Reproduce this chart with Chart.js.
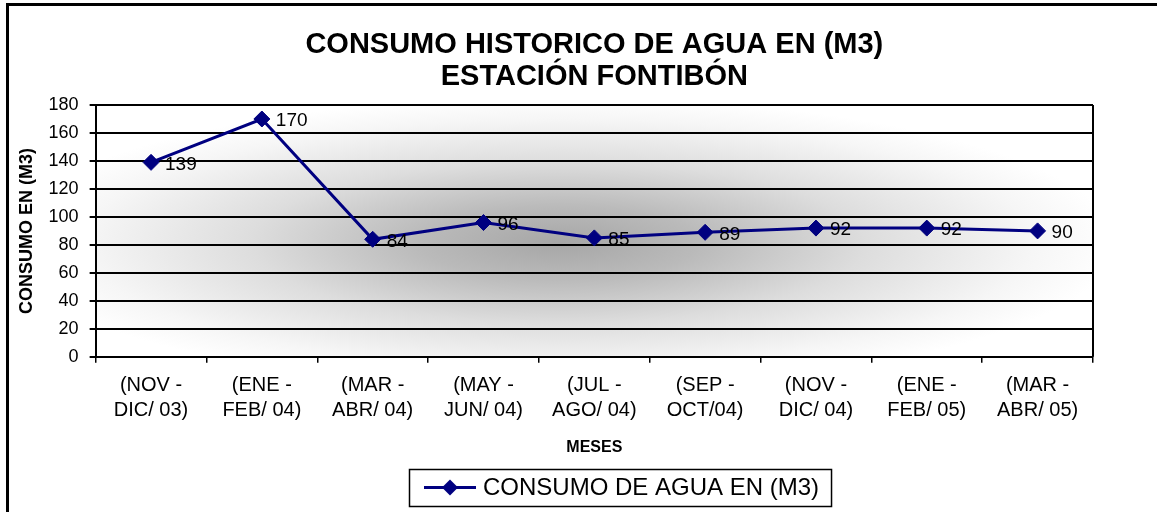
<!DOCTYPE html>
<html>
<head>
<meta charset="utf-8">
<title>Consumo histórico de agua</title>
<script src="https://cdn.jsdelivr.net/npm/chart.js@4.4.1/dist/chart.umd.min.js"></script>
<style>
    html, body { margin: 0; padding: 0; background: #ffffff; }
    #wrap { width: 1157px; height: 512px; position: relative; }
</style>
</head>
<body>
<div id="wrap"><canvas id="aguaChart"></canvas></div>
<script>
// periodos bimestrales
const periodos = [
    ['(NOV -', 'DIC/ 03)'],
    ['(ENE -', 'FEB/ 04)'],
    ['(MAR -', 'ABR/ 04)'],
    ['(MAY -', 'JUN/ 04)'],
    ['(JUL -', 'AGO/ 04)'],
    ['(SEP -', 'OCT/04)'],
    ['(NOV -', 'DIC/ 04)'],
    ['(ENE -', 'FEB/ 05)'],
    ['(MAR -', 'ABR/ 05)']
];

// consumo en m3
const consumo = [139, 170, 84, 96, 85, 89, 92, 92, 90];

const titulo = ['CONSUMO HISTORICO DE AGUA EN (M3)', 'ESTACIÓN FONTIBÓN'];
const serieNombre = 'CONSUMO DE AGUA EN (M3)';
const ejeY = { min: 0, max: 180, paso: 20 };

const FONT = '"Liberation Sans", Arial, sans-serif';
const NAVY = '#000080';

// fondo degradado del area de trazado
const fondoPlugin = {
    id: 'fondo',
    beforeDraw(chart) {
        const { ctx, chartArea: a } = chart;
        const cx = (a.left + a.right) / 2 - 35;
        const cy = (a.top + a.bottom) / 2 + 12;
        const rx = (a.right - a.left) * 0.56;
        const ry = (a.bottom - a.top) * 0.58;
        ctx.save();
        ctx.beginPath();
        ctx.rect(a.left, a.top, a.right - a.left, a.bottom - a.top);
        ctx.clip();
        ctx.translate(cx, cy);
        ctx.scale(1, ry / rx);
        const g = ctx.createRadialGradient(0, 0, 0, 0, 0, rx);
        g.addColorStop(0, '#a6a6a6');
        g.addColorStop(0.25, '#bababa');
        g.addColorStop(0.55, '#dddddd');
        g.addColorStop(0.85, '#f6f6f6');
        g.addColorStop(1, '#ffffff');
        ctx.fillStyle = g;
        ctx.fillRect(-rx * 2, -rx * 2, rx * 4, rx * 4);
        ctx.restore();
    },
    beforeDatasetsDraw(chart) {
        // borde derecho del area
        const { ctx, chartArea: a } = chart;
        ctx.save();
        ctx.strokeStyle = '#000';
        ctx.lineWidth = 2;
        ctx.beginPath();
        ctx.moveTo(a.right, a.top);
        ctx.lineTo(a.right, a.bottom);
        ctx.stroke();
        ctx.restore();
    }
};

// titulo centrado sobre el area de trazado
const tituloPlugin = {
    id: 'tituloCentrado',
    afterDraw(chart) {
        const { ctx, chartArea: a } = chart;
        const cx = (a.left + a.right) / 2;
        ctx.save();
        ctx.font = 'bold 29px ' + FONT;
        ctx.fillStyle = '#000';
        ctx.textAlign = 'center';
        ctx.textBaseline = 'middle';
        ctx.fillText(titulo[0], cx, a.top - 60);
        ctx.fillText(titulo[1], cx, a.top - 28);
        ctx.restore();
    }
};

// etiquetas con el valor a la derecha de cada punto
const valoresPlugin = {
    id: 'valores',
    afterDatasetsDraw(chart) {
        const { ctx } = chart;
        const meta = chart.getDatasetMeta(0);
        ctx.save();
        ctx.font = '19px ' + FONT;
        ctx.fillStyle = '#000';
        ctx.textAlign = 'left';
        ctx.textBaseline = 'middle';
        meta.data.forEach((pt, i) => {
            ctx.fillText(String(consumo[i]), pt.x + 14, pt.y + 2);
        });
        ctx.restore();
    }
};

// leyenda en recuadro y marco exterior
const leyendaPlugin = {
    id: 'leyenda',
    afterDraw(chart) {
        const { ctx, chartArea: a, width, height } = chart;
        ctx.save();
        ctx.font = '24px ' + FONT;
        const textW = ctx.measureText(serieNombre).width;
        const boxW = 15 + 52 + 7 + textW + 12;
        const boxH = 37;
        const bx = Math.round((a.left + a.right) / 2 + 26 - boxW / 2);
        const by = height - 43;
        ctx.strokeStyle = '#000';
        ctx.lineWidth = 1.5;
        ctx.strokeRect(bx + 0.5, by + 0.5, boxW, boxH);

        const ly = by + boxH / 2;
        ctx.strokeStyle = NAVY;
        ctx.lineWidth = 3;
        ctx.beginPath();
        ctx.moveTo(bx + 15, ly);
        ctx.lineTo(bx + 67, ly);
        ctx.stroke();
        ctx.fillStyle = NAVY;
        ctx.beginPath();
        ctx.moveTo(bx + 41 - 8, ly);
        ctx.lineTo(bx + 41, ly - 8);
        ctx.lineTo(bx + 41 + 8, ly);
        ctx.lineTo(bx + 41, ly + 8);
        ctx.closePath();
        ctx.fill();

        ctx.fillStyle = '#000';
        ctx.textBaseline = 'middle';
        ctx.fillText(serieNombre, bx + 74, ly + 1);

        // marco del grafico
        ctx.strokeStyle = '#000';
        ctx.lineWidth = 3;
        ctx.strokeRect(7.5, 4.5, width + 10, height + 10);
        ctx.restore();
    }
};

const ctx = document.getElementById('aguaChart').getContext('2d');

const chart = new Chart(ctx, {
    type: 'line',
    data: {
        labels: periodos,
        datasets: [{
            label: serieNombre,
            data: consumo,
            borderColor: NAVY,
            backgroundColor: NAVY,
            borderWidth: 3,
            pointStyle: 'rectRot',
            pointRadius: 8,
            pointHoverRadius: 8,
            pointBackgroundColor: NAVY,
            pointBorderColor: NAVY,
            pointBorderWidth: 1,
            tension: 0,
            fill: false
        }]
    },
    options: {
        responsive: true,
        maintainAspectRatio: false,
        animation: false,
        layout: {
            padding: { top: 105, left: 12, right: 64, bottom: 51 }
        },
        scales: {
            x: {
                type: 'category',
                offset: true,
                grid: {
                    display: true,
                    offset: true,
                    drawOnChartArea: false,
                    drawTicks: true,
                    tickLength: 6,
                    color: '#000',
                    lineWidth: 1.5
                },
                border: { display: true, color: '#000', width: 2 },
                ticks: {
                    color: '#000',
                    font: { family: FONT, size: 20, lineHeight: 1.25 },
                    padding: 10,
                    maxRotation: 0,
                    autoSkip: false
                },
                title: {
                    display: true,
                    text: 'MESES',
                    color: '#000',
                    font: { family: FONT, size: 16, weight: 'bold' },
                    padding: { top: 5, bottom: 4 }
                }
            },
            y: {
                min: ejeY.min,
                max: ejeY.max,
                ticks: {
                    stepSize: ejeY.paso,
                    color: '#000',
                    font: { family: FONT, size: 18 },
                    padding: 11
                },
                grid: {
                    color: '#000',
                    lineWidth: 2,
                    tickLength: 6
                },
                border: { display: true, color: '#000', width: 2 },
                title: {
                    display: true,
                    text: 'CONSUMO EN (M3)',
                    color: '#000',
                    font: { family: FONT, size: 18, weight: 'bold' },
                    padding: { top: 4, bottom: 0 }
                }
            }
        },
        plugins: {
            legend: { display: false },
            tooltip: { enabled: false },
            title: { display: false }
        }
    },
    plugins: [fondoPlugin, valoresPlugin, tituloPlugin, leyendaPlugin]
});
</script>
</body>
</html>
